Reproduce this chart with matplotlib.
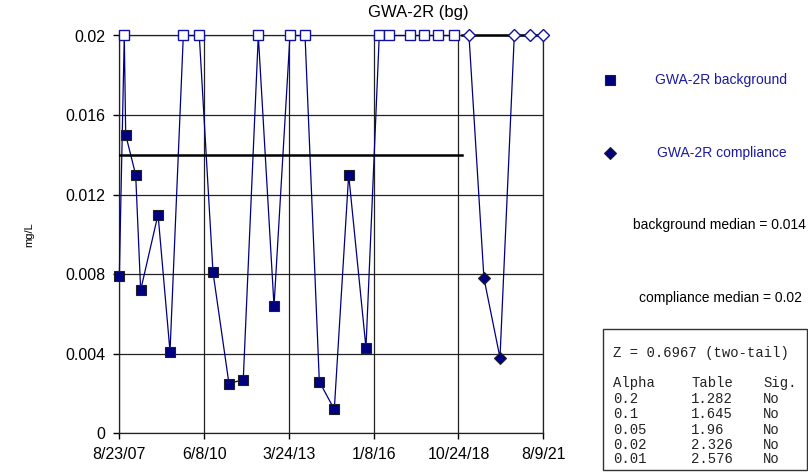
import pandas as pd
import matplotlib
matplotlib.use("Agg")
import matplotlib.pyplot as plt
from matplotlib.lines import Line2D
from matplotlib.patches import Rectangle

plt.rcParams['font.family'] = ['Liberation Sans', 'DejaVu Sans']

# background samples (0.02 = non-detect, open symbol)
bg_dates = ['2007-08-23', '2007-10-22', '2007-11-08', '2008-03-07', '2008-05-06',
            '2008-12-01', '2009-04-24', '2009-10-01', '2010-04-11', '2010-09-23',
            '2011-04-03', '2011-09-22', '2012-03-21', '2012-09-26', '2013-04-06',
            '2013-10-04', '2014-03-25', '2014-09-21', '2015-03-13', '2015-10-07',
            '2016-03-15', '2016-07-14', '2017-03-20', '2017-09-08', '2018-02-23',
            '2018-08-31']
bg_values = [0.0079, 0.02, 0.015, 0.013, 0.0072, 0.011, 0.0041, 0.02, 0.02, 0.0081,
             0.0025, 0.0027, 0.02, 0.0064, 0.02, 0.02, 0.0026, 0.0012, 0.013, 0.0043,
             0.02, 0.02, 0.02, 0.02, 0.02, 0.02]
bg_nd = [False, True, False, False, False, False, False, True, True, False,
         False, False, True, False, True, True, False, False, False, False,
         True, True, True, True, True, True]

# compliance samples
cp_dates = ['2019-02-27', '2019-08-26', '2020-03-06', '2020-08-25', '2021-03-02', '2021-08-02']
cp_values = [0.02, 0.0078, 0.0038, 0.02, 0.02, 0.02]
cp_nd = [True, False, False, True, True, True]

bg_median = 0.014
cp_median = 0.02
bg_median_span = ['2007-08-23', '2018-12-08']
cp_median_span = ['2018-12-08', '2021-08-09']

x_ticks = ['2007-08-23', '2010-06-08', '2013-03-24', '2016-01-08', '2018-10-24', '2021-08-09']
x_tick_labels = ['8/23/07', '6/8/10', '3/24/13', '1/8/16', '10/24/18', '8/9/21']
y_ticks = [0, 0.004, 0.008, 0.012, 0.016, 0.02]
y_tick_labels = ['0', '0.004', '0.008', '0.012', '0.016', '0.02']

stats_z = 'Z = 0.6967 (two-tail)'
alphas = ['0.2', '0.1', '0.05', '0.02', '0.01']
table_vals = ['1.282', '1.645', '1.96', '2.326', '2.576']
sig = ['No', 'No', 'No', 'No', 'No']

navy = '#000080'

bgd = pd.to_datetime(bg_dates)
cpd = pd.to_datetime(cp_dates)

fig = plt.figure(figsize=(8.08, 4.73), dpi=100)
ax = fig.add_axes([119.3 / 808, 1 - 433.3 / 473, 424 / 808, (433.3 - 35.5) / 473])

ax.plot(bgd, bg_values, color=navy, lw=0.9, zorder=3, clip_on=False)
ax.plot(cpd, cp_values, color=navy, lw=0.9, zorder=3, clip_on=False)

for d, v, nd in zip(bgd, bg_values, bg_nd):
    if nd:
        ax.plot(d, v, 's', ms=7, mfc='white', mec='#1010a0', mew=1.0, zorder=5, clip_on=False)
    else:
        ax.plot(d, v, 's', ms=7, mfc=navy, mec='#202020', mew=0.8, zorder=5, clip_on=False)
for d, v, nd in zip(cpd, cp_values, cp_nd):
    if nd:
        ax.plot(d, v, 'D', ms=6.5, mfc='white', mec='#1010a0', mew=1.0, zorder=5, clip_on=False)
    else:
        ax.plot(d, v, 'D', ms=6.5, mfc=navy, mec='#202020', mew=0.8, zorder=5, clip_on=False)

ax.plot(pd.to_datetime(bg_median_span), [bg_median, bg_median], color='black', lw=1.8, zorder=4)
ax.plot(pd.to_datetime(cp_median_span), [cp_median, cp_median], color='black', lw=1.8, zorder=4,
        clip_on=False)

ax.set_xlim(pd.Timestamp(x_ticks[0]), pd.Timestamp(x_ticks[-1]))
ax.set_ylim(0, 0.02)
ax.set_xticks(pd.to_datetime(x_ticks))
ax.set_xticklabels(x_tick_labels)
ax.set_yticks(y_ticks)
ax.set_yticklabels(y_tick_labels)
ax.tick_params(axis='both', direction='out', length=4, width=1, labelsize=11.5, color='black')
ax.tick_params(axis='y', pad=6)
ax.tick_params(axis='x', pad=6)
ax.grid(True, color='#222222', lw=0.9)
ax.set_axisbelow(True)
for s in ax.spines.values():
    s.set_color('#222222')
    s.set_linewidth(0.9)
ax.set_ylabel('mg/L', fontsize=8)
ax.yaxis.set_label_coords(-0.2, 0.5)

fig.text(418 / 808, 1 - 13 / 473, 'GWA-2R (bg)', ha='center', va='center', fontsize=12)

# legend
fig.add_artist(Line2D([610 / 808], [1 - 80 / 473], marker='s', ms=7, mfc=navy, mec='#202020',
                      mew=0.8, ls='none', transform=fig.transFigure))
fig.text(655 / 808, 1 - 80 / 473, 'GWA-2R background', color='#1a1aa0', fontsize=10, va='center')
fig.add_artist(Line2D([610 / 808], [1 - 153 / 473], marker='D', ms=6.5, mfc=navy, mec='#202020',
                      mew=0.8, ls='none', transform=fig.transFigure))
fig.text(657 / 808, 1 - 153 / 473, 'GWA-2R compliance', color='#1a1aa0', fontsize=10, va='center')

fig.text(806 / 808, 1 - 225 / 473, 'background median = %g' % bg_median, ha='right', va='center', fontsize=10)
fig.text(802 / 808, 1 - 298 / 473, 'compliance median = %g' % cp_median, ha='right', va='center', fontsize=10)

# stats box
fig.add_artist(Rectangle((603 / 808, 1 - 470 / 473), 204 / 808, 141 / 473, transform=fig.transFigure,
                         fill=False, ec='#333333', lw=1))
mono = dict(family=['Liberation Mono', 'DejaVu Sans Mono'], fontsize=10, va='center', color='#222222')
fig.text(613 / 808, 1 - 353 / 473, stats_z, **mono)
rows_y = [383, 399, 414, 429.5, 444.5, 459]
headers = ['Alpha', 'Table', 'Sig.']
col_x = [613, 691, 763]
for cx, h in zip(col_x, headers):
    fig.text(cx / 808, 1 - rows_y[0] / 473, h, **mono)
for i in range(len(alphas)):
    yy = 1 - rows_y[i + 1] / 473
    fig.text(col_x[0] / 808, yy, alphas[i], **mono)
    fig.text(col_x[1] / 808, yy, table_vals[i], **mono)
    fig.text(col_x[2] / 808, yy, sig[i], **mono)

fig.savefig('out.png', dpi=100)
